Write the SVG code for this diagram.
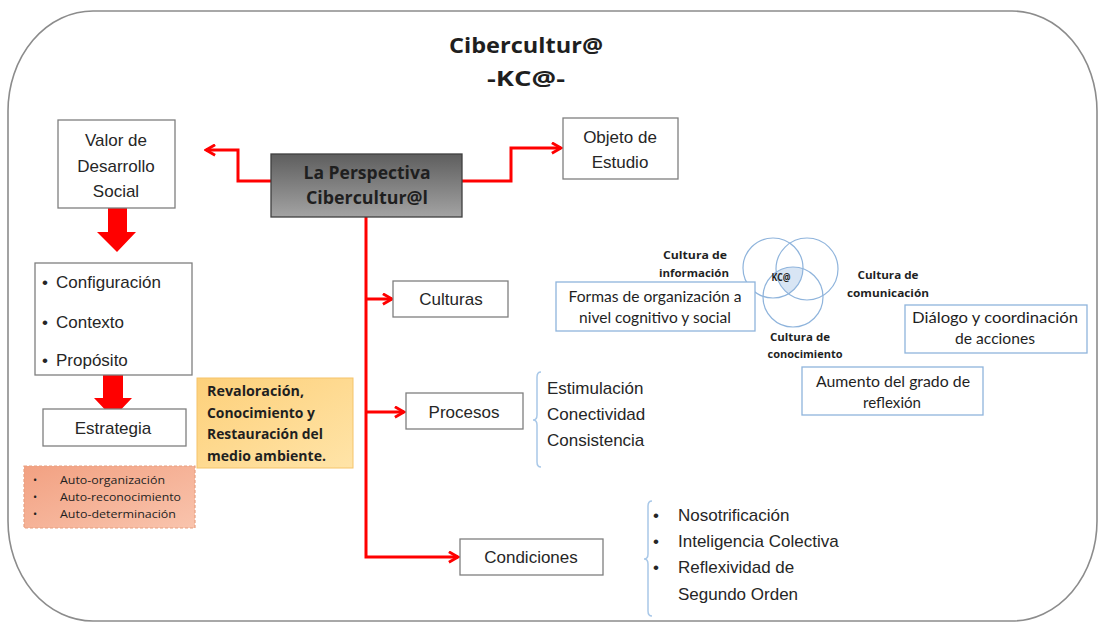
<svg xmlns="http://www.w3.org/2000/svg" width="1099" height="623" viewBox="0 0 1099 623">
<defs>
<style>
.arial{font-family:"Liberation Sans",Arial,sans-serif;fill:#262626}
.cal{font-family:Lato,"Open Sans",sans-serif;fill:#1f1f1f}
.os{font-family:"Open Sans",Lato,sans-serif;fill:#1f1f1f}
.box{fill:#fff;stroke:#7f7f7f;stroke-width:1.3}
.blue{fill:#fff;stroke:#8fb4dc;stroke-width:1.3}
.conn{fill:none;stroke:#ff0000;stroke-width:3;marker-end:url(#chev)}
.brk{fill:none;stroke:#a9c8e8;stroke-width:1.5}
.venn{fill:none;stroke:#8fb4dc;stroke-width:1.2}
</style>
<marker id="chev" viewBox="0 0 10 10" refX="8.5" refY="5" markerWidth="13" markerHeight="13" markerUnits="userSpaceOnUse" orient="auto">
<path d="M1.5,1 L8.5,5 L1.5,9" fill="none" stroke="#ff0000" stroke-width="2.2"/>
</marker>
<linearGradient id="gray" x1="0" y1="0" x2="0" y2="1">
<stop offset="0" stop-color="#5e5e5e"/><stop offset="1" stop-color="#a3a3a3"/>
</linearGradient>
<linearGradient id="yel" x1="0" y1="0" x2="1" y2="1">
<stop offset="0" stop-color="#fdd07a"/><stop offset="1" stop-color="#ffe4a8"/>
</linearGradient>
<linearGradient id="sal" x1="0" y1="0" x2="1" y2="1">
<stop offset="0" stop-color="#f2a182"/><stop offset="1" stop-color="#f9c4ad"/>
</linearGradient>
<clipPath id="cTL"><circle cx="773" cy="268" r="30"/></clipPath>
<clipPath id="cTR"><circle cx="807" cy="269" r="31"/></clipPath>
</defs>

<rect id="frame" x="8" y="11" width="1089" height="610" rx="85" ry="100" fill="#fff" stroke="#8c8c8c" stroke-width="1.6"/>

<g id="title">
<text class="os" x="526" y="53" font-size="22" font-weight="bold" text-anchor="middle" textLength="154" lengthAdjust="spacingAndGlyphs">Cibercultur@</text>
<text class="os" x="526" y="86" font-size="22" font-weight="bold" text-anchor="middle" textLength="78" lengthAdjust="spacingAndGlyphs">-KC@-</text>
</g>

<g id="connectors">
<polyline class="conn" points="271,181 238,181 238,150 206,150"/>
<polyline class="conn" points="462,181 511,181 511,148 561,148"/>
<polyline class="conn" points="366,217 366,557 458,557"/>
<line class="conn" x1="366" y1="299" x2="392" y2="299"/>
<line class="conn" x1="366" y1="412" x2="404" y2="412"/>
<path d="M108,208 H127 V232 H136 L117,252 L97,232 H108 Z" fill="#ff0000"/>
<path d="M103,375 H123 V398 H132 L113,418 L94,398 H103 Z" fill="#ff0000"/>
</g>

<g id="valor">
<rect class="box" x="58" y="120" width="117" height="88"/>
<text class="arial" font-size="17" text-anchor="middle"><tspan x="116" y="146">Valor de</tspan><tspan x="116" y="172">Desarrollo</tspan><tspan x="116" y="197">Social</tspan></text>
</g>

<g id="lista">
<rect class="box" x="35" y="263" width="157" height="112"/>
<text class="arial" font-size="17"><tspan x="42" y="288">•</tspan><tspan x="56" y="288">Configuración</tspan><tspan x="42" y="328">•</tspan><tspan x="56" y="328">Contexto</tspan><tspan x="42" y="366">•</tspan><tspan x="56" y="366">Propósito</tspan></text>
</g>

<g id="estrategia">
<rect class="box" x="43" y="409" width="143" height="37"/>
<text class="arial" x="113" y="434" font-size="17" text-anchor="middle">Estrategia</text>
</g>

<g id="auto">
<rect x="24" y="466" width="171" height="62" fill="url(#sal)" stroke="#e8a080" stroke-width="1.2" stroke-dasharray="3,2"/>
<text class="os" font-size="11" fill="#333"><tspan x="33" y="484">•</tspan><tspan x="33" y="501">•</tspan><tspan x="33" y="518">•</tspan></text>
<text class="os" font-size="11" fill="#333" x="60" y="484" textLength="105" lengthAdjust="spacingAndGlyphs">Auto-organización</text>
<text class="os" font-size="11" fill="#333" x="60" y="501" textLength="121" lengthAdjust="spacingAndGlyphs">Auto-reconocimiento</text>
<text class="os" font-size="11" fill="#333" x="60" y="518" textLength="116" lengthAdjust="spacingAndGlyphs">Auto-determinación</text>
</g>

<g id="revaloracion">
<rect x="197" y="378" width="156" height="90" fill="url(#yel)" stroke="#f5c46a" stroke-width="1"/>
<text class="os" font-size="13.5" font-weight="bold" x="207" y="396" textLength="97" lengthAdjust="spacingAndGlyphs">Revaloración,</text>
<text class="os" font-size="13.5" font-weight="bold" x="207" y="418" textLength="108" lengthAdjust="spacingAndGlyphs">Conocimiento y</text>
<text class="os" font-size="13.5" font-weight="bold" x="207" y="439" textLength="116" lengthAdjust="spacingAndGlyphs">Restauración del</text>
<text class="os" font-size="13.5" font-weight="bold" x="207" y="461" textLength="119" lengthAdjust="spacingAndGlyphs">medio ambiente.</text>
</g>

<g id="perspectiva">
<rect x="271" y="154" width="191" height="63" fill="url(#gray)" stroke="#3f3f3f" stroke-width="1.3"/>
<text class="os" font-size="17" font-weight="bold" text-anchor="middle" fill="#1a1a1a" x="367" y="179" textLength="127" lengthAdjust="spacingAndGlyphs">La Perspectiva</text>
<text class="os" font-size="17" font-weight="bold" text-anchor="middle" fill="#1a1a1a" x="367" y="204" textLength="122" lengthAdjust="spacingAndGlyphs">Cibercultur@l</text>
</g>

<g id="objeto">
<rect class="box" x="563" y="118" width="115" height="61"/>
<text class="arial" font-size="17" text-anchor="middle"><tspan x="620" y="143">Objeto de</tspan><tspan x="620" y="168">Estudio</tspan></text>
</g>

<g id="culturas">
<rect class="box" x="393" y="281" width="115" height="36"/>
<text class="arial" x="451" y="305" font-size="17" text-anchor="middle">Culturas</text>
</g>

<g id="procesos">
<rect class="box" x="406" y="393" width="117" height="36"/>
<text class="arial" x="464" y="418" font-size="17" text-anchor="middle">Procesos</text>
<path class="brk" d="M541,372 Q537,372 537,377 L537,415 Q537,420 533,420 Q537,420 537,425 L537,462 Q537,467 541,467"/>
<text class="arial" font-size="17"><tspan x="547" y="394">Estimulación</tspan><tspan x="547" y="420">Conectividad</tspan><tspan x="547" y="446">Consistencia</tspan></text>
</g>

<g id="condiciones">
<rect class="box" x="460" y="539" width="143" height="36"/>
<text class="arial" x="531" y="563" font-size="17" text-anchor="middle">Condiciones</text>
<path class="brk" d="M652,501 Q648,501 648,506 L648,554 Q648,559 644,559 Q648,559 648,564 L648,611 Q648,616 652,616"/>
<text class="arial" font-size="17"><tspan x="653" y="521">•</tspan><tspan x="678" y="521">Nosotrificación</tspan><tspan x="653" y="547">•</tspan><tspan x="678" y="547">Inteligencia  Colectiva</tspan><tspan x="653" y="573">•</tspan><tspan x="678" y="573">Reflexividad de</tspan><tspan x="678" y="600">Segundo Orden</tspan></text>
</g>

<g id="venn">
<g clip-path="url(#cTL)"><g clip-path="url(#cTR)"><circle cx="793" cy="297" r="30" fill="#a8c6e6" opacity="0.45"/></g></g>
<circle class="venn" cx="773" cy="268" r="30"/>
<circle class="venn" cx="807" cy="269" r="31"/>
<circle class="venn" cx="793" cy="297" r="30"/>
<text class="os" x="781" y="281" font-size="10" font-weight="bold" text-anchor="middle" textLength="19" lengthAdjust="spacingAndGlyphs">KC@</text>
<text class="os" x="695" y="259" font-size="10.5" font-weight="bold" text-anchor="middle" textLength="64" lengthAdjust="spacingAndGlyphs">Cultura de</text>
<text class="os" x="694" y="277" font-size="10.5" font-weight="bold" text-anchor="middle" textLength="70" lengthAdjust="spacingAndGlyphs">información</text>
<text class="os" x="888" y="279" font-size="10.5" font-weight="bold" text-anchor="middle" textLength="61" lengthAdjust="spacingAndGlyphs">Cultura de</text>
<text class="os" x="888" y="297" font-size="10.5" font-weight="bold" text-anchor="middle" textLength="82" lengthAdjust="spacingAndGlyphs">comunicación</text>
<text class="os" x="800" y="341" font-size="10.5" font-weight="bold" text-anchor="middle" textLength="60" lengthAdjust="spacingAndGlyphs">Cultura de</text>
<text class="os" x="805" y="358" font-size="10.5" font-weight="bold" text-anchor="middle" textLength="75" lengthAdjust="spacingAndGlyphs">conocimiento</text>
</g>

<g id="formas">
<rect class="blue" x="556" y="282" width="199" height="49"/>
<text class="cal" font-size="15" text-anchor="middle" fill="#404040" x="655" y="302" textLength="173" lengthAdjust="spacingAndGlyphs">Formas de organización a</text>
<text class="cal" font-size="15" text-anchor="middle" fill="#404040" x="655" y="323" textLength="152" lengthAdjust="spacingAndGlyphs">nivel cognitivo y social</text>
</g>

<g id="dialogo">
<rect class="blue" x="905" y="305" width="182" height="48"/>
<text class="cal" font-size="15" text-anchor="middle" fill="#404040" x="995" y="323" textLength="166" lengthAdjust="spacingAndGlyphs">Diálogo y coordinación</text>
<text class="cal" font-size="15" text-anchor="middle" fill="#404040" x="995" y="344" textLength="80" lengthAdjust="spacingAndGlyphs">de acciones</text>
</g>

<g id="aumento">
<rect class="blue" x="802" y="367" width="181" height="48"/>
<text class="cal" font-size="15" text-anchor="middle" fill="#404040" x="893" y="387" textLength="154" lengthAdjust="spacingAndGlyphs">Aumento del grado de</text>
<text class="cal" font-size="15" text-anchor="middle" fill="#404040" x="892" y="408" textLength="58" lengthAdjust="spacingAndGlyphs">reflexión</text>
</g>
</svg>
